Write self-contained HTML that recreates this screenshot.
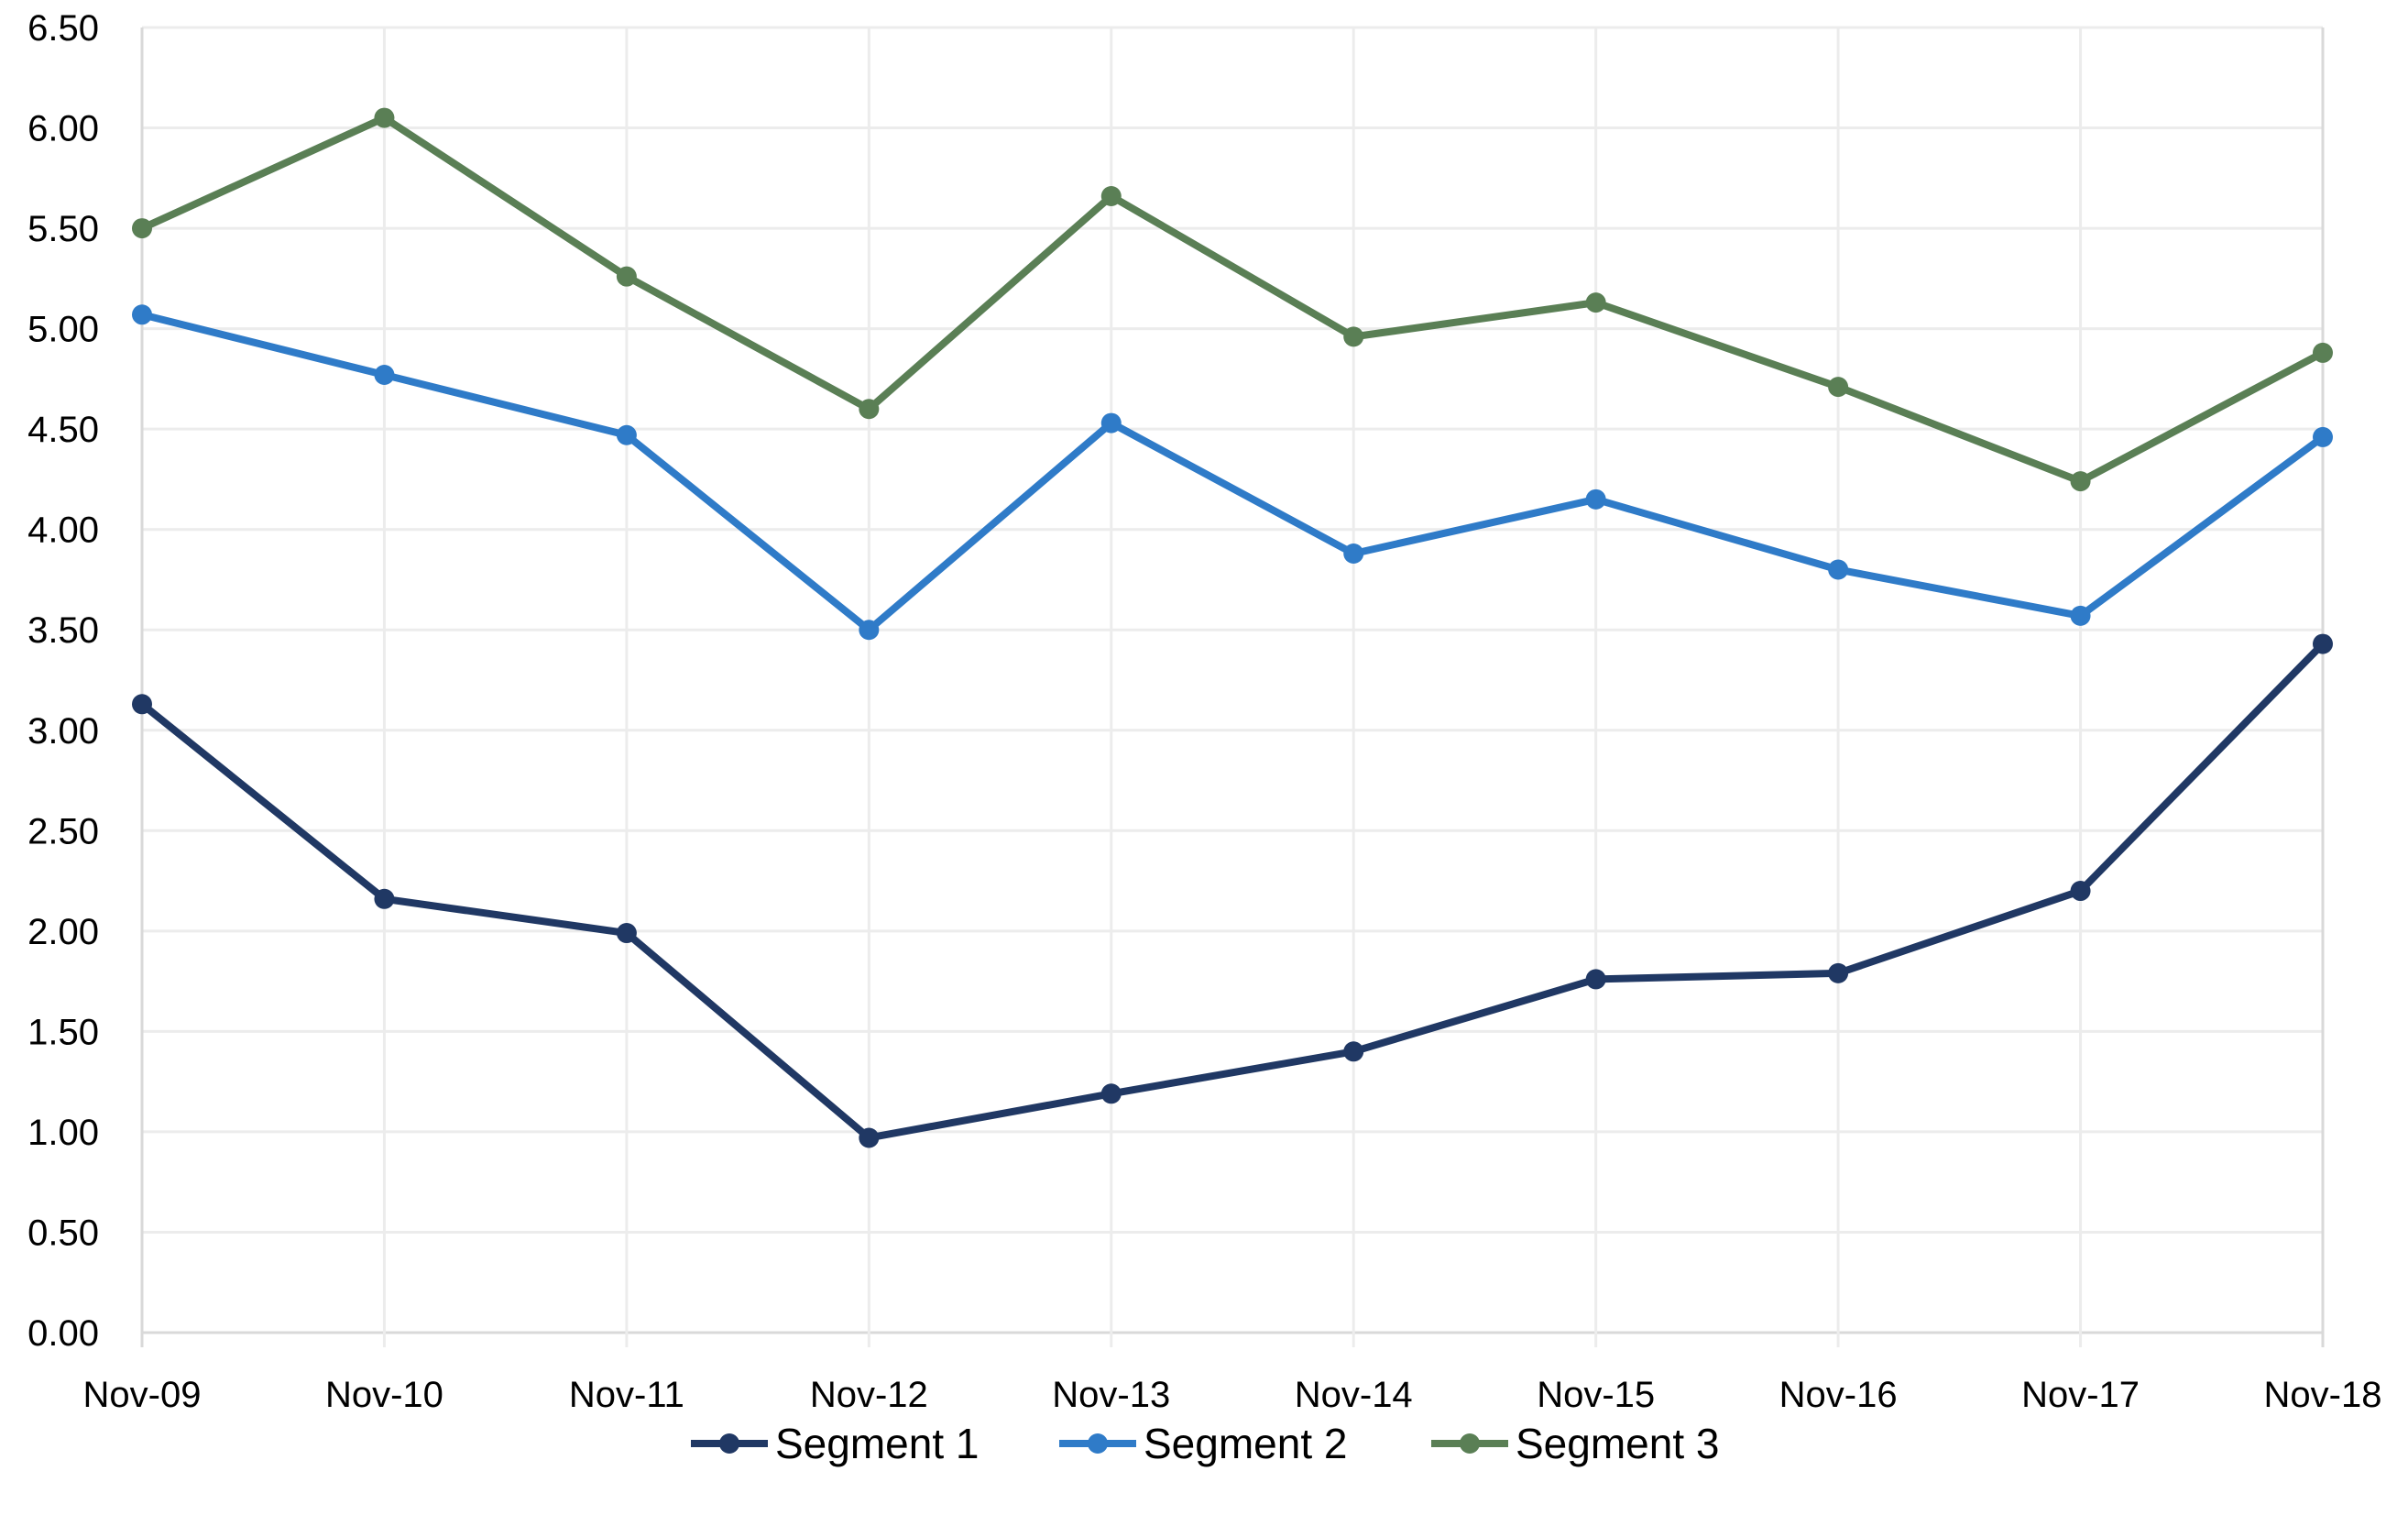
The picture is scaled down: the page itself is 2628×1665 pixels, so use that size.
<!DOCTYPE html>
<html><head><meta charset="utf-8"><style>
html,body{margin:0;padding:0;background:#fff;}
svg{display:block;font-family:"Liberation Sans",Carlito,sans-serif;}
</style></head><body>
<svg id="chart" width="2628" height="1665" viewBox="0 0 2628 1665" xmlns="http://www.w3.org/2000/svg">
<g id="grid"></g>
<g id="yticks"></g>
<g id="xticks"></g>
<g id="series"></g>
<g id="legend"></g>
</svg>
<script>
const categories = ["Nov-09","Nov-10","Nov-11","Nov-12","Nov-13","Nov-14","Nov-15","Nov-16","Nov-17","Nov-18"];
const seg1 = [3.13,2.16,1.99,0.97,1.19,1.40,1.76,1.79,2.20,3.43];
const seg2 = [5.07,4.77,4.47,3.50,4.53,3.88,4.15,3.80,3.57,4.46];
const seg3 = [5.50,6.05,5.26,4.60,5.66,4.96,5.13,4.71,4.24,4.88];
const seriesNames = ["Segment 1","Segment 2","Segment 3"];
const yTicks = [0,0.5,1,1.5,2,2.5,3,3.5,4,4.5,5,5.5,6,6.5];

const NS="http://www.w3.org/2000/svg";
const L=155,R=2535,T=30,B=1454,YMAX=6.5;
function xPos(i){return L+(R-L)*i/(categories.length-1);}
function yPos(v){return B-(B-T)*v/YMAX;}
function mk(tag,attrs,parent){const e=document.createElementNS(NS,tag);for(const k in attrs)e.setAttribute(k,attrs[k]);parent.appendChild(e);return e;}
const grid=document.getElementById('grid'),yt=document.getElementById('yticks'),xt=document.getElementById('xticks'),sg=document.getElementById('series'),lg=document.getElementById('legend');

yTicks.forEach(v=>{
  const y=yPos(v);
  const ln=mk('line',{x1:L,x2:R,y1:y,y2:y,stroke:v===0?'#d9d9d9':'#ececec','stroke-width':3},grid);
  
  
  const t=mk('text',{x:108,y:y+14,'text-anchor':'end','font-size':40,fill:'#000'},yt);
  
  
  t.textContent=v.toFixed(2);
});
categories.forEach((c,i)=>{
  const x=xPos(i);
  const ln=mk('line',{x1:x,x2:x,y1:T,y2:B+16,stroke:(i===0||i===categories.length-1)?'#d9d9d9':'#ececec','stroke-width':3},grid);
  
  
  const t=mk('text',{x:x,y:1535,'text-anchor':'middle','font-size':40,fill:'#000'},xt);
  
  
  t.textContent=c;
});
const allSeries=[seg1,seg2,seg3];
const colors=["#203864","#2f7bc8","#5a7f55"];
allSeries.forEach((data,s)=>{
  const g=mk('g',{},sg);
  
  
  const pts=data.map((v,i)=>xPos(i)+','+yPos(v)).join(' ');
  const pl=mk('polyline',{points:pts,fill:'none',stroke:colors[s],'stroke-width':8,'stroke-linejoin':'round'},g);
  
  
  data.forEach((v,i)=>{
    const c=mk('circle',{cx:xPos(i),cy:yPos(v),r:11,fill:colors[s]},g);
    
    
  });
});
const legX=[754,1156,1562];
seriesNames.forEach((n,s)=>{
  const g=mk('g',{},lg);
  
  
  mk('line',{x1:legX[s],x2:legX[s]+84,y1:1575,y2:1575,stroke:colors[s],'stroke-width':8},g);
  mk('circle',{cx:legX[s]+42,cy:1575,r:11,fill:colors[s]},g);
  const t=mk('text',{x:legX[s]+92,y:1591,'font-size':46,fill:'#000'},g);
  
  
  t.textContent=n;
});
</script>
</body></html>
